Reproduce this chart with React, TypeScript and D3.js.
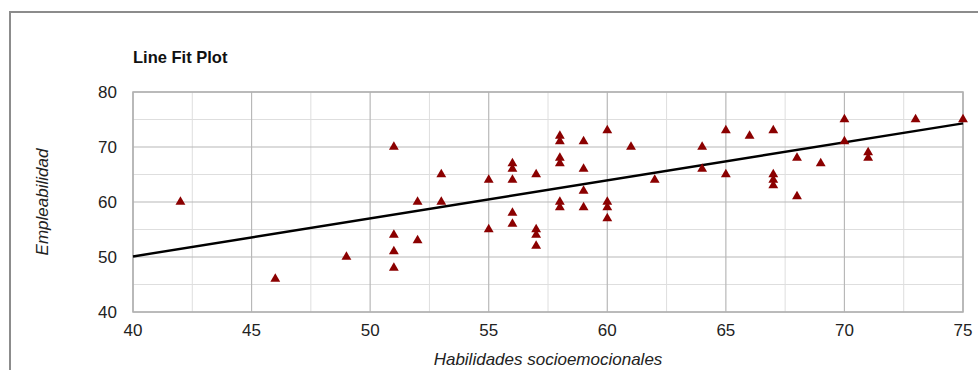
import { useEffect, useRef } from 'react';
import * as d3 from 'd3';

// Habilidades socioemocionales (x) vs Empleabilidad (y)
const xValues = [
  42, 46, 49, 51, 51, 51, 51, 52, 52, 53, 53, 55, 55,
  56, 56, 56, 56, 56, 57, 57, 57, 57,
  58, 58, 58, 58, 58, 58, 59, 59, 59, 59, 60, 60, 60, 60,
  61, 62, 64, 64, 65, 65, 66, 67, 67, 67, 67, 68, 68, 69,
  70, 70, 71, 71, 73, 75,
];
const yValues = [
  60, 46, 50, 70, 54, 51, 48, 60, 53, 65, 60, 64, 55,
  67, 66, 64, 58, 56, 65, 55, 54, 52,
  72, 71, 68, 67, 60, 59, 71, 66, 62, 59, 73, 60, 59, 57,
  70, 64, 70, 66, 73, 65, 72, 73, 65, 64, 63, 68, 61, 67,
  75, 71, 69, 68, 75, 75,
];
// predicted line
const fitX = [40, 75];
const fitY = [50.1, 74.3];

const xTicks = [40, 45, 50, 55, 60, 65, 70, 75];
const yTicks = [40, 50, 60, 70, 80];

export default function App() {
  const svgRef = useRef<SVGSVGElement>(null);

  useEffect(() => {
    const width = 978;
    const height = 370;
    const svg = d3.select(svgRef.current);
    svg.selectAll('*').remove();
    svg.attr('width', width).attr('height', height);

    const m = { left: 133, right: 963, top: 92, bottom: 312 };
    const x = d3.scaleLinear().domain([40, 75]).range([m.left, m.right]);
    const y = d3.scaleLinear().domain([40, 80]).range([m.bottom, m.top]);
    const font = 'Liberation Sans, Arial, sans-serif';

    svg.append('rect').attr('width', width).attr('height', height).attr('fill', '#fff');

    // outer frame
    svg.append('path')
      .attr('d', `M10,${height} L10,12 L${width},12`)
      .attr('fill', 'none')
      .attr('stroke', '#8c8c8c')
      .attr('stroke-width', 2);

    // minor grid
    const minorX = d3.range(42.5, 75, 5);
    const minorY = d3.range(45, 80, 10);
    svg.append('g').selectAll('line').data(minorX).join('line')
      .attr('x1', d => x(d)).attr('x2', d => x(d))
      .attr('y1', m.top).attr('y2', m.bottom)
      .attr('stroke', '#dedede').attr('stroke-width', 1);
    svg.append('g').selectAll('line').data(minorY).join('line')
      .attr('x1', m.left).attr('x2', m.right)
      .attr('y1', d => y(d)).attr('y2', d => y(d))
      .attr('stroke', '#dedede').attr('stroke-width', 1);

    // major grid
    svg.append('g').selectAll('line').data(xTicks).join('line')
      .attr('x1', d => x(d)).attr('x2', d => x(d))
      .attr('y1', m.top).attr('y2', m.bottom)
      .attr('stroke', '#b8b8b8').attr('stroke-width', 1.2);
    svg.append('g').selectAll('line').data(yTicks).join('line')
      .attr('x1', m.left).attr('x2', m.right)
      .attr('y1', d => y(d)).attr('y2', d => y(d))
      .attr('stroke', '#b8b8b8').attr('stroke-width', 1.2);

    svg.append('rect')
      .attr('x', m.left).attr('y', m.top)
      .attr('width', m.right - m.left).attr('height', m.bottom - m.top)
      .attr('fill', 'none').attr('stroke', '#b0b0b0').attr('stroke-width', 1.5);

    // tick labels
    svg.append('g').selectAll('text').data(xTicks).join('text')
      .attr('x', d => x(d)).attr('y', 336)
      .attr('text-anchor', 'middle')
      .attr('font-family', font).attr('font-size', 17).attr('fill', '#222')
      .text(d => d);
    svg.append('g').selectAll('text').data(yTicks).join('text')
      .attr('x', 117).attr('y', d => y(d) + 6)
      .attr('text-anchor', 'end')
      .attr('font-family', font).attr('font-size', 17).attr('fill', '#222')
      .text(d => d);

    // titles
    svg.append('text')
      .attr('x', 133).attr('y', 63)
      .attr('font-family', font).attr('font-size', 16.5).attr('font-weight', 'bold')
      .attr('fill', '#111')
      .text('Line Fit Plot');
    svg.append('text')
      .attr('x', (m.left + m.right) / 2).attr('y', 365)
      .attr('text-anchor', 'middle')
      .attr('font-family', font).attr('font-size', 17).attr('font-style', 'italic')
      .attr('fill', '#222')
      .text('Habilidades socioemocionales');
    svg.append('text')
      .attr('transform', `translate(48,${(m.top + m.bottom) / 2}) rotate(-90)`)
      .attr('text-anchor', 'middle')
      .attr('font-family', font).attr('font-size', 17).attr('font-style', 'italic')
      .attr('fill', '#222')
      .text('Empleabilidad');

    // fit line
    const line = d3.line<number>().x(d => x(fitX[d])).y(d => y(fitY[d]));
    svg.append('path')
      .attr('d', line(d3.range(fitX.length)))
      .attr('fill', 'none').attr('stroke', '#000').attr('stroke-width', 2.4);

    // points
    const tri = d3.symbol().type(d3.symbolTriangle).size(42);
    svg.append('g').selectAll('path').data(d3.range(xValues.length)).join('path')
      .attr('d', tri)
      .attr('transform', i => `translate(${x(xValues[i])},${y(yValues[i])})`)
      .attr('fill', '#8b0000');
  }, []);

  return <svg ref={svgRef} style={{ position: 'absolute', left: 0, top: 0 }} />;
}
